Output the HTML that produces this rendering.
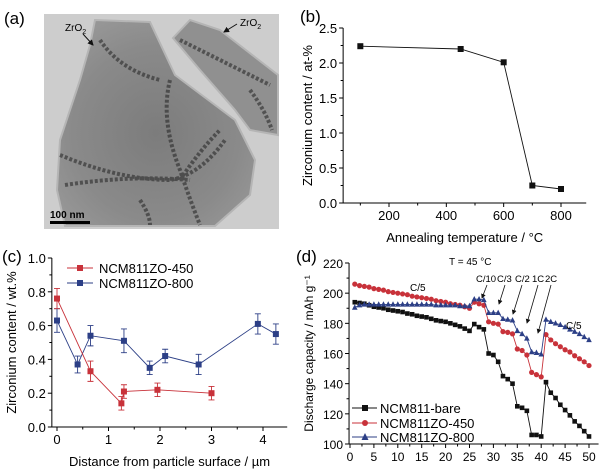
<!DOCTYPE html>
<html><head><meta charset="utf-8"><style>
html,body{margin:0;padding:0;background:#fff;}
svg{display:block;font-family:"Liberation Sans",Arial,sans-serif;}
</style></head><body>
<svg id="s" width="600" height="469" viewBox="0 0 600 469" xmlns="http://www.w3.org/2000/svg">
<defs>
<marker id="ah" markerWidth="6" markerHeight="6" refX="5" refY="3" orient="auto"><path d="M0,0 L6,3 L0,6 z" fill="#111"/></marker>
<radialGradient id="pg" cx="0.5" cy="0.55" r="0.6"><stop offset="0" stop-color="#7c7c7c"/><stop offset="0.7" stop-color="#8a8a8a"/><stop offset="1" stop-color="#969696"/></radialGradient>
</defs>
<!-- Panel a -->
<g>
<text x="4" y="24" font-size="17">(a)</text>
<rect x="44" y="14" width="235" height="215" fill="#cdcdcd"/>
<polygon points="95,20 150,22 175,75 235,120 255,160 250,195 215,226 65,226 57,190 60,140 80,80 90,45" fill="url(#pg)" stroke="#b5b5b5" stroke-width="2"/>
<polygon points="173,38 190,20 220,30 278,75 278,135 250,130 235,110 200,70" fill="#909090" stroke="#b5b5b5" stroke-width="2"/>
<g stroke="#2a2a2a" stroke-width="4" opacity="0.6" fill="none" stroke-dasharray="3 2">
<path d="M170,80 Q160,120 180,170 Q190,200 200,225"/>
<path d="M60,155 Q120,180 170,180 Q200,175 225,140"/>
<path d="M65,185 Q130,175 190,180"/>
<path d="M180,180 Q200,150 220,130"/>
<path d="M100,40 Q120,70 160,80"/>
<path d="M180,40 Q220,60 270,85"/>
<path d="M250,90 Q265,110 272,130"/>
<path d="M140,200 Q150,215 150,225"/>
</g>
<text x="65" y="31" font-size="10">ZrO<tspan font-size="7" dy="3">2</tspan></text>
<line x1="83" y1="34" x2="93" y2="45" stroke="#111" stroke-width="1" marker-end="url(#ah)"/>
<text x="240" y="26" font-size="10">ZrO<tspan font-size="7" dy="3">2</tspan></text>
<line x1="237" y1="24" x2="224" y2="32" stroke="#111" stroke-width="1" marker-end="url(#ah)"/>
<text x="50" y="218" font-size="10" font-weight="bold">100 nm</text>
<rect x="50" y="221" width="40" height="3" fill="#000"/>
</g>
<g id="pb"><text x="300" y="22" font-size="17">(b)</text></g>
<g id="pc"><text x="2" y="262" font-size="17">(c)</text></g>
<g id="pd"><text x="296" y="262" font-size="17">(d)</text></g>
</svg>
<script>
// Panel b data
const bTemps=[100,450,600,700,800];
const bZr=[2.24,2.2,2.01,0.25,0.2];
const bXTicks=[200,400,600,800];
const bYTicks=[0.0,0.5,1.0,1.5,2.0,2.5];
// Panel c data
const cX450=[0,0.65,1.25,1.3,1.95,3];
const cY450=[0.76,0.33,0.14,0.21,0.22,0.2];
const cE450=[0.06,0.06,0.04,0.04,0.04,0.04];
const cX800=[0,0.4,0.65,1.3,1.8,2.1,2.75,3.9,4.25];
const cY800=[0.63,0.37,0.54,0.51,0.35,0.42,0.37,0.61,0.55];
const cE800=[0.07,0.05,0.06,0.07,0.04,0.04,0.06,0.06,0.06];
const cXTicks=[0,1,2,3,4];
const cYTicks=[0.0,0.2,0.4,0.6,0.8,1.0];
// Panel d data
const dCycles=[1,2,3,4,5,6,7,8,9,10,11,12,13,14,15,16,17,18,19,20,21,22,23,24,25,26,27,28,29,30,31,32,33,34,35,36,37,38,39,40,41,42,43,44,45,46,47,48,49,50];
const dBare=[194,193.5,193,192,191,190.5,190,189,188.5,188,187.5,186.5,186,185,184.5,184,183,182,181.5,181,180,179,178,176.5,175,179.5,177.5,176,160,159,154.5,145,143,140,125,124,122,106,106,105,141,134,130.5,126,122.5,119,115,112,108.5,105];
const dZO450=[206,205,204.5,204,203,202.5,202,201,200.5,200,199.5,199,198,197.5,197,196.5,196,195,194.5,194,193,192.5,192,191,190,194,193,192,181,180,179.5,174.5,174,173,163,162,159,147.5,146,144.5,172.5,169,166.5,164.5,162.5,161,158.5,156.5,154.5,152];
const dZO800=[190.5,192,192.5,192.5,192.5,192.5,192.5,192.5,192.5,192.5,192.5,192.5,192.5,192.5,192.5,192.5,192.5,192,192,192,192,192,191.5,191.5,191.5,196,196,195.5,187,187,187,183,182.5,182,175,173,170,161,160.5,159.5,182.5,181,180,179,177.5,176,174.5,173,171,169];
const dXTicks=[0,5,10,15,20,25,30,35,40,45,50];
const dYTicks=[100,120,140,160,180,200,220];

const NS="http://www.w3.org/2000/svg";
function mk(parent,tag,attrs){const e=document.createElementNS(NS,tag);for(const k in attrs)e.setAttribute(k,attrs[k]);parent.appendChild(e);return e;}
function lin(d0,d1,r0,r1){return v=>r0+(v-d0)*(r1-r0)/(d1-d0);}

function axes(g,X,Y,x0,x1,y0,y1,xt,yt,xminor,yminor,fmtY,xTitle,yTitle,xTitleY,yTitleX,fs){
  const ax=mk(g,'path',{d:`M${X(x0)},${Y(y1)} L${X(x0)},${Y(y0)} L${X(x1)},${Y(y0)}`,stroke:'#000','stroke-width':1,fill:'none'});
  
  
  xt.forEach(v=>{mk(g,'line',{x1:X(v),x2:X(v),y1:Y(y0),y2:Y(y0)+4,stroke:'#000'});
    const t=mk(g,'text',{x:X(v),y:Y(y0)+17,'font-size':fs,'text-anchor':'middle'});t.textContent=v;
    
    });
  xminor.forEach(v=>mk(g,'line',{x1:X(v),x2:X(v),y1:Y(y0),y2:Y(y0)+2.5,stroke:'#000'}));
  yt.forEach(v=>{mk(g,'line',{x1:X(x0)-4,x2:X(x0),y1:Y(v),y2:Y(v),stroke:'#000'});
    const t=mk(g,'text',{x:X(x0)-6,y:Y(v)+5,'font-size':fs,'text-anchor':'end'});t.textContent=fmtY(v);
    
    });
  yminor.forEach(v=>mk(g,'line',{x1:X(x0)-2.5,x2:X(x0),y1:Y(v),y2:Y(v),stroke:'#000'}));
  if(xTitle){const xtt=mk(g,'text',{x:(X(x0)+X(x1))/2,y:xTitleY,'font-size':fs,'text-anchor':'middle'});xtt.textContent=xTitle;
  
  }
  const cy=(Y(y0)+Y(y1))/2;
  const ytt=mk(g,'text',{x:yTitleX,y:cy,'font-size':fs,'text-anchor':'middle',transform:`rotate(-90 ${yTitleX} ${cy})`});ytt.textContent=yTitle;
  
  
}
function series(g,xs,ys,X,Y,color,shape,name,sz){
  const pl=mk(g,'polyline',{points:xs.map((x,i)=>X(x)+','+Y(ys[i])).join(' '),fill:'none',stroke:color,'stroke-width':0.9});
  
  
  xs.forEach((x,i)=>{const cx=X(x),cy=Y(ys[i]);let m;
    if(shape==='sq')m=mk(g,'rect',{x:cx-sz,y:cy-sz,width:2*sz,height:2*sz,fill:color});
    else if(shape==='ci')m=mk(g,'circle',{cx:cx,cy:cy,r:sz+0.4,fill:color});
    else m=mk(g,'polygon',{points:`${cx},${cy-sz-1} ${cx-sz-0.6},${cy+sz} ${cx+sz+0.6},${cy+sz}`,fill:color});
    
    });
}
// Panel b
(function(){const g=document.getElementById('pb');
 const X=lin(200,800,389,561),Y=lin(0,2.5,203,28);
 axes(g,X,Y,40,888,0,2.5,bXTicks,bYTicks,[100,300,500,700],[0.25,0.75,1.25,1.75,2.25],v=>v.toFixed(1),'Annealing temperature / °C','Zirconium content / at-%',242,312,13);
 series(g,bTemps,bZr,X,Y,'#111','sq','b-zr',3);
})();
// Panel c
(function(){const g=document.getElementById('pc');
 const X=lin(0,1,57,108.5),Y=lin(0,1,427,258);
 axes(g,X,Y,-0.1,4.47,0,1,cXTicks,cYTicks,[0.5,1.5,2.5,3.5],[0.1,0.3,0.5,0.7,0.9],v=>v.toFixed(1),'Distance from particle surface / µm','Zirconium content / wt.%',466,16,13);
 function eb(xs,ys,es,col,n){xs.forEach((x,i)=>{const cx=X(x);const e=mk(g,'path',{d:`M${cx},${Y(ys[i]-es[i])} V${Y(ys[i]+es[i])} M${cx-3},${Y(ys[i]-es[i])} h6 M${cx-3},${Y(ys[i]+es[i])} h6`,stroke:col,'stroke-width':0.9,fill:'none'});
  
  });}
 eb(cX800,cY800,cE800,'#2c3f86','c-800');eb(cX450,cY450,cE450,'#c8323a','c-450');
 series(g,cX800,cY800,X,Y,'#2c3f86','sq','c-800',3);
 series(g,cX450,cY450,X,Y,'#c8323a','sq','c-450',3);
 [['NCM811ZO-450','#c8323a',268],['NCM811ZO-800','#2c3f86',283]].forEach(([t,c,y])=>{
  const lg=mk(g,'g',{});
  mk(lg,'line',{x1:67,x2:93,y1:y,y2:y,stroke:c});mk(lg,'rect',{x:77,y:y-3,width:6,height:6,fill:c});
  const tx=mk(lg,'text',{x:99,y:y+5,'font-size':13});tx.textContent=t;});
})();
// Panel d
(function(){const g=document.getElementById('pd');
 const X=lin(0,50,350,589),Y=lin(100,220,444,263);
 axes(g,X,Y,-0.2,52,100,220,dXTicks,dYTicks,[2.5,7.5,12.5,17.5,22.5,27.5,32.5,37.5,42.5,47.5],[110,130,150,170,190,210],v=>v,'','Discharge capacity / mAh g⁻¹',462,313,12);
 series(g,dCycles,dBare,X,Y,'#111','sq','d-bare',2.3);
 series(g,dCycles,dZO450,X,Y,'#c8323a','ci','d-zo450',2.2);
 series(g,dCycles,dZO800,X,Y,'#2c3f86','tr','d-zo800',2.2);
 [['NCM811-bare','#111',408,'sq'],['NCM811ZO-450','#c8323a',423,'ci'],['NCM811ZO-800','#2c3f86',437,'tr']].forEach(([t,c,y,s])=>{
  const lg=mk(g,'g',{});
  mk(lg,'line',{x1:352,x2:377,y1:y,y2:y,stroke:c});
  if(s==='sq')mk(lg,'rect',{x:362,y:y-3,width:6,height:6,fill:c});
  else if(s==='ci')mk(lg,'circle',{cx:365,cy:y,r:3,fill:c});
  else mk(lg,'polygon',{points:`365,${y-4} 361.5,${y+3} 368.5,${y+3}`,fill:c});
  const tx=mk(lg,'text',{x:380,y:y+5,'font-size':13});tx.textContent=t;});
 const ann=[['T = 45 °C',449,265,10],['C/5',410,291,10],['C/5',566,329,10],['C/10',476,282,9.5],['C/3',497,282,9.5],['C/2',515,282,9.5],['1C',532,282,9.5],['2C',545,282,9.5]];
 ann.forEach(([t,x,y,f])=>{const tx=mk(g,'text',{x:x,y:y,'font-size':f});tx.textContent=t;
  
  });
 [[487,285,482,298],[505,285,499,304],[522,285,513,314],[538,285,527,323],[551,285,538,333]].forEach(a=>{
  const l=mk(g,'line',{x1:a[0],y1:a[1],x2:a[2],y2:a[3],stroke:'#111','stroke-width':0.8,'marker-end':'url(#ah)'});
  
  });
})();
</script>
</body></html>
